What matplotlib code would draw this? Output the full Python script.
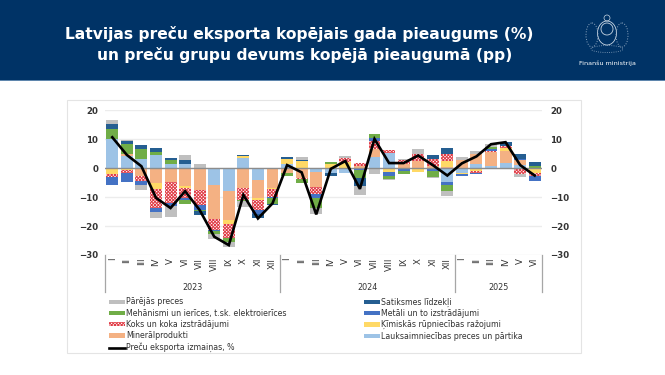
"""Latvian goods export growth and contribution of goods groups."""

import matplotlib
matplotlib.use('Agg')
import matplotlib.pyplot as plt
from matplotlib.lines import Line2D
from matplotlib.patches import Circle, Ellipse, Patch, Rectangle
from matplotlib.transforms import blended_transform_factory
import numpy as np

months = ['I', 'II', 'III', 'IV', 'V', 'VI', 'VII', 'VIII', 'IX', 'X', 'XI', 'XII',
          'I', 'II', 'III', 'IV', 'V', 'VI', 'VII', 'VIII', 'IX', 'X', 'XI', 'XII',
          'I', 'II', 'III', 'IV', 'V', 'VI']
years = ['2023', '2024', '2025']

agri = [10.0, 4.2, 3.2, 4.5, 1.4, 1.3, 0, -6.0, -7.8, 3.3, -4.3, 0,
        1.4, 0, -1.5, -1.8, -1.6, -0.3, 3.8, 5.2, 0, 0, 0, -4.8,
        -1.6, 1.4, 0.6, 1.8, 1.1, 0]
mineral = [-0.2, 0.7, -2.8, -5.0, -4.7, -6.3, -7.7, -11.5, -10.1, -7.0, -5.9, -6.9,
           -1.7, -3.3, -5.0, 0, 0, 0.6, 2.7, 0, 1.3, 2.5, 0.6, 0.4,
           2.6, 3.3, 4.8, 3.9, 1.7, 0]
chem = [-1.7, -0.8, 0, -2.3, -0.2, -0.6, 0, 0, -1.5, 0.8, -1.0, -0.2,
        1.7, 2.4, 0, 1.4, 2.0, 0, 0, -1.4, 0, -1.5, 0, 2.0,
        -0.6, -1.0, 0, 1.3, 0, -1.6]
coke = [-1.2, -0.8, -1.8, -6.4, -7.0, -3.5, -5.0, -3.8, -4.9, -3.9, -3.2, -3.0,
        0, -0.5, -2.3, 0, 1.6, 1.2, 2.8, 1.0, 1.4, 2.2, 2.4, 2.6,
        0, -0.6, 0.6, 0.6, -2.0, -1.3]
metals = [-2.6, -3.3, -1.3, -1.5, -1.3, -0.7, -1.7, -0.3, 0, 0, -1.4, -0.2,
          0, 0, -1.4, 0, 0, -0.5, 1.0, -1.5, -1.0, 0, -0.9, -0.9,
          -0.7, -0.6, 0.5, 0, 0.2, -1.7]
machinery = [3.4, 3.3, 3.2, 0.9, 1.5, -1.3, -0.5, -1.2, -1.2, -0.4, 0, -2.0,
             -1.2, -1.3, -3.5, 0.5, 0, -2.6, 1.5, -1.0, -1.0, 0.3, -2.2, -2.3,
             0, 0.3, 0.9, -0.2, 0, 0.6]
transport = [1.8, 1.0, 1.4, 1.6, 0.4, 1.5, -1.4, 0, 0, 0.5, -1.4, -0.6,
             0.6, 0.5, 0, -1.0, 0, -2.9, 0, 0, 0, 0, 1.5, 2.0,
             0, 0, 0, 1.2, 1.9, 1.3]
other = [1.2, 0.4, -1.8, -2.0, -3.8, 1.6, 1.5, -1.7, -1.7, -2.3, 0, 0,
         0, 0.8, -2.2, 0, 0.5, -2.9, -2.0, -0.4, 0.5, 1.5, -0.4, -1.7,
         1.3, 1.0, 1.0, 0, -1.2, 0]
export_change = [10.6, 4.5, 0.6, -10.3, -13.8, -8.0, -14.5, -23.7, -26.6, -9.3, -17.4, -12.2,
                 1.0, -1.5, -16.0, -0.3, 2.4, -7.2, 10.0, 1.7, 1.7, 4.3, 1.0, -2.6,
                 1.6, 4.0, 8.2, 8.9, 1.0, -2.6]

NAVY = '#003366'
TEXT = '#333333'
COKE_HATCH = 'xxxxxxxxxx'

plt.rcParams['font.family'] = ['DejaVu Sans']
plt.rcParams['hatch.linewidth'] = 0.7

fig = plt.figure(figsize=(6.65, 3.75), dpi=100, facecolor='white')
W, H = 665., 375.


def px_axes(left, top, right, bottom):
    return [left / W, 1 - bottom / H, (right - left) / W, (bottom - top) / H]


# slide header and chart frame
fig.add_artist(Rectangle((0, 1 - 80 / H), 1, 80 / H, transform=fig.transFigure,
                         fc=NAVY, ec='none', zorder=-3))
fig.add_artist(Rectangle((0, 1 - 81 / H), 1, 1 / H, transform=fig.transFigure,
                         fc='#5f86ad', ec='none', zorder=-3))
fig.add_artist(Rectangle((67 / W, 1 - 353 / H), 514 / W, 253 / H, transform=fig.transFigure,
                         fc='white', ec='#e4e4e4', lw=0.8, zorder=-3))
fig.text(299.5 / W, 1 - 34 / H, 'Latvijas preču eksporta kopējais gada pieaugums (%)',
         color='white', fontsize=11.2, fontweight='bold', ha='center', va='center')
fig.text(305 / W, 1 - 55 / H, 'un preču grupu devums kopējā pieaugumā (pp)',
         color='white', fontsize=11.2, fontweight='bold', ha='center', va='center')
fig.text(607 / W, 1 - 63 / H, 'Finanšu ministrija', color='white', fontsize=4.6,
         ha='center', va='center')

# simple outline of the coat of arms
logo = fig.add_axes(px_axes(584, 14, 630, 54))
logo.set_xlim(0, 46)
logo.set_ylim(40, 0)
logo.axis('off')
logo.add_patch(Ellipse((23, 19), 19, 24, fc='none', ec='#c9d6e3', lw=0.6))
logo.add_patch(Circle((23, 15), 6, fc='none', ec='#c9d6e3', lw=0.6))
logo.add_patch(Ellipse((8, 21), 12, 24, fc='none', ec='#8fa7c0', lw=0.7, ls=':'))
logo.add_patch(Ellipse((38, 21), 12, 24, fc='none', ec='#8fa7c0', lw=0.7, ls=':'))
logo.add_patch(Ellipse((23, 35), 32, 7, fc='none', ec='#8fa7c0', lw=0.6, ls=':'))
logo.add_patch(Circle((23, 4), 3, fc='none', ec='#c9d6e3', lw=0.5))

ax = fig.add_axes(px_axes(105, 110, 542, 255))
ax.patch.set_alpha(0)
x = np.arange(len(months))

styles = [
    (agri, '#9dc3e6', None),
    (mineral, '#f4b183', None),
    (chem, '#ffd966', None),
    (coke, 'white', '#e03c46'),
    (metals, '#4472c4', None),
    (machinery, '#70ad47', None),
    (transport, '#255e91', None),
    (other, '#bfbfbf', None),
]

pos = np.zeros(len(months))
neg = np.zeros(len(months))
for values, color, hatch_color in styles:
    values = np.array(values)
    bottoms = np.where(values >= 0, pos, neg)
    if hatch_color:
        ax.bar(x, values, 0.82, bottom=bottoms, facecolor=color, edgecolor=hatch_color,
               hatch=COKE_HATCH, linewidth=0, zorder=2)
    else:
        ax.bar(x, values, 0.82, bottom=bottoms, color=color, linewidth=0, zorder=2)
    pos += np.where(values > 0, values, 0)
    neg += np.where(values < 0, values, 0)

ax.plot(x, export_change, color='black', lw=1.9, zorder=4, solid_joinstyle='miter')
ax.axhline(0, color='#8c8c8c', lw=1.0, zorder=3)

ax.set_xlim(-0.5, len(months) - 0.5)
ax.set_ylim(-30, 20)
ax.set_yticks(np.arange(-30, 21, 10))
ax.yaxis.grid(True, color='#ececec', lw=1.0, zorder=0)
ax.set_axisbelow(True)
ax.tick_params(axis='y', length=0, pad=5, labelsize=6.2, labelcolor=TEXT)
for lab in ax.get_yticklabels():
    lab.set_fontweight('bold')
for side in ['top', 'left', 'right', 'bottom']:
    ax.spines[side].set_visible(False)

ax.set_xticks(x)
ax.set_xticklabels(months, rotation=90, fontsize=6.2, color=TEXT)
ax.tick_params(axis='x', length=0, pad=2)

ax2 = ax.twinx()
ax2.set_ylim(-30, 20)
ax2.set_yticks(np.arange(-30, 21, 10))
ax2.tick_params(axis='y', length=0, pad=6, labelsize=6.2, labelcolor=TEXT)
for lab in ax2.get_yticklabels():
    lab.set_fontweight('bold')
for side in ['top', 'left', 'right', 'bottom']:
    ax2.spines[side].set_visible(False)

# year level of the category axis
trans = blended_transform_factory(ax.transData, fig.transFigure)
year_edges = [-0.5, 11.5, 23.5, 29.5]
for edge in year_edges:
    ax.plot([edge, edge], [1 - 255 / H, 1 - 292 / H], transform=trans, color='#a6a6a6',
            lw=0.9, clip_on=False)
for i, year in enumerate(years):
    ax.text((year_edges[i] + year_edges[i + 1]) / 2, 1 - 287.5 / H, year, transform=trans,
            ha='center', va='center', fontsize=5.8, color=TEXT)

handles = [
    Patch(fc='#bfbfbf', label='Pārējās preces'),
    Patch(fc='#70ad47', label='Mehānismi un ierīces, t.sk. elektroierīces'),
    Patch(fc='white', ec='#e03c46', hatch=COKE_HATCH, lw=0, label='Koks un koka izstrādājumi'),
    Patch(fc='#f4b183', label='Minerālprodukti'),
    Line2D([], [], color='black', lw=1.9, label='Preču eksporta izmaiņas, %'),
    Patch(fc='#255e91', label='Satiksmes līdzekļi'),
    Patch(fc='#4472c4', label='Metāli un to izstrādājumi'),
    Patch(fc='#ffd966', label='Ķīmiskās rūpniecības ražojumi'),
    Patch(fc='#9dc3e6', label='Lauksaimniecības preces un pārtika'),
]
fig.legend(handles=handles, ncol=2, loc='upper left', bbox_to_anchor=(109 / W, 1 - 297.5 / H),
           frameon=False, fontsize=5.7, labelcolor=TEXT, handlelength=2.0, handleheight=0.45,
           handletextpad=0.15, labelspacing=0.29, columnspacing=9.8, borderpad=0,
           borderaxespad=0)

fig.savefig('out.png', dpi=100)
